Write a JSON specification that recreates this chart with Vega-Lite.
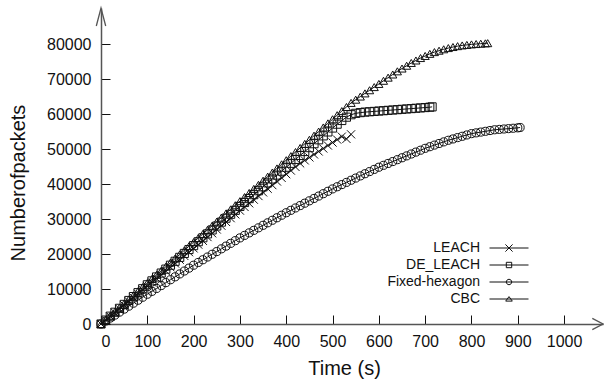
{
"$schema": "https://vega.github.io/schema/vega-lite/v6.json",
"width": 502, "height": 316,
"autosize": {"type": "none"},
"padding": {"left": 101, "top": 8, "right": 1, "bottom": 61},
"background": "white",
"config": {"view": {"stroke": null}, "font": "Liberation Sans",
  "axis": {"grid": false, "domainColor": "#555", "domainWidth": 1.5, "tickColor": "#111", "tickWidth": 1, "tickSize": -9, "labelFontSize": 16, "labelColor": "#111", "titleFontSize": 20, "titleFontWeight": "normal", "titleColor": "#111", "format": "d", "labelOverlap": false}},
"datasets": {"curves": [
{"series":"LEACH","t":0,"v":0},{"series":"LEACH","t":10,"v":1080},{"series":"LEACH","t":20,"v":2160},{"series":"LEACH","t":30,"v":3240},{"series":"LEACH","t":40,"v":4320},{"series":"LEACH","t":50,"v":5400},{"series":"LEACH","t":60,"v":6480},{"series":"LEACH","t":70,"v":7560},{"series":"LEACH","t":80,"v":8640},{"series":"LEACH","t":90,"v":9720},{"series":"LEACH","t":100,"v":10800},{"series":"LEACH","t":110,"v":11880},{"series":"LEACH","t":120,"v":12960},{"series":"LEACH","t":130,"v":14040},{"series":"LEACH","t":140,"v":15120},{"series":"LEACH","t":150,"v":16200},{"series":"LEACH","t":160,"v":17280},{"series":"LEACH","t":170,"v":18360},{"series":"LEACH","t":180,"v":19440},{"series":"LEACH","t":190,"v":20520},{"series":"LEACH","t":200,"v":21600},{"series":"LEACH","t":210,"v":22680},{"series":"LEACH","t":220,"v":23760},{"series":"LEACH","t":230,"v":24840},{"series":"LEACH","t":240,"v":25920},{"series":"LEACH","t":250,"v":27000},{"series":"LEACH","t":260,"v":28080},{"series":"LEACH","t":270,"v":29160},{"series":"LEACH","t":280,"v":30240},{"series":"LEACH","t":290,"v":31320},{"series":"LEACH","t":300,"v":32400},{"series":"LEACH","t":310,"v":33440},{"series":"LEACH","t":320,"v":34480},{"series":"LEACH","t":330,"v":35520},{"series":"LEACH","t":340,"v":36560},{"series":"LEACH","t":350,"v":37600},{"series":"LEACH","t":360,"v":38640},{"series":"LEACH","t":370,"v":39680},{"series":"LEACH","t":380,"v":40720},{"series":"LEACH","t":390,"v":41760},{"series":"LEACH","t":400,"v":42800},{"series":"LEACH","t":410,"v":43840},{"series":"LEACH","t":420,"v":44880},{"series":"LEACH","t":430,"v":45900},{"series":"LEACH","t":440,"v":46750},{"series":"LEACH","t":450,"v":47600},{"series":"LEACH","t":460,"v":48450},{"series":"LEACH","t":470,"v":49300},{"series":"LEACH","t":480,"v":50150},{"series":"LEACH","t":490,"v":51000},{"series":"LEACH","t":500,"v":51850},{"series":"LEACH","t":510,"v":52700},{"series":"LEACH","t":520,"v":53550},{"series":"LEACH","t":530,"v":52900},{"series":"LEACH","t":540,"v":54200},
{"series":"DE_LEACH","t":0,"v":0},{"series":"DE_LEACH","t":10,"v":1120},{"series":"DE_LEACH","t":20,"v":2240},{"series":"DE_LEACH","t":30,"v":3360},{"series":"DE_LEACH","t":40,"v":4480},{"series":"DE_LEACH","t":50,"v":5600},{"series":"DE_LEACH","t":60,"v":6720},{"series":"DE_LEACH","t":70,"v":7840},{"series":"DE_LEACH","t":80,"v":8960},{"series":"DE_LEACH","t":90,"v":10080},{"series":"DE_LEACH","t":100,"v":11200},{"series":"DE_LEACH","t":110,"v":12320},{"series":"DE_LEACH","t":120,"v":13440},{"series":"DE_LEACH","t":130,"v":14560},{"series":"DE_LEACH","t":140,"v":15680},{"series":"DE_LEACH","t":150,"v":16800},{"series":"DE_LEACH","t":160,"v":17920},{"series":"DE_LEACH","t":170,"v":19040},{"series":"DE_LEACH","t":180,"v":20160},{"series":"DE_LEACH","t":190,"v":21280},{"series":"DE_LEACH","t":200,"v":22400},{"series":"DE_LEACH","t":210,"v":23520},{"series":"DE_LEACH","t":220,"v":24640},{"series":"DE_LEACH","t":230,"v":25760},{"series":"DE_LEACH","t":240,"v":26880},{"series":"DE_LEACH","t":250,"v":28000},{"series":"DE_LEACH","t":260,"v":29120},{"series":"DE_LEACH","t":270,"v":30240},{"series":"DE_LEACH","t":280,"v":31360},{"series":"DE_LEACH","t":290,"v":32480},{"series":"DE_LEACH","t":300,"v":33600},{"series":"DE_LEACH","t":310,"v":34720},{"series":"DE_LEACH","t":320,"v":35840},{"series":"DE_LEACH","t":330,"v":36960},{"series":"DE_LEACH","t":340,"v":38080},{"series":"DE_LEACH","t":350,"v":39200},{"series":"DE_LEACH","t":360,"v":40320},{"series":"DE_LEACH","t":370,"v":41440},{"series":"DE_LEACH","t":380,"v":42560},{"series":"DE_LEACH","t":390,"v":43680},{"series":"DE_LEACH","t":400,"v":44800},{"series":"DE_LEACH","t":410,"v":45920},{"series":"DE_LEACH","t":420,"v":47040},{"series":"DE_LEACH","t":430,"v":48160},{"series":"DE_LEACH","t":440,"v":49280},{"series":"DE_LEACH","t":450,"v":50400},{"series":"DE_LEACH","t":460,"v":51520},{"series":"DE_LEACH","t":470,"v":52640},{"series":"DE_LEACH","t":480,"v":53760},{"series":"DE_LEACH","t":490,"v":54880},{"series":"DE_LEACH","t":500,"v":56000},{"series":"DE_LEACH","t":510,"v":57100},{"series":"DE_LEACH","t":520,"v":58150},{"series":"DE_LEACH","t":530,"v":59100},{"series":"DE_LEACH","t":540,"v":59800},{"series":"DE_LEACH","t":550,"v":60200},{"series":"DE_LEACH","t":560,"v":60400},{"series":"DE_LEACH","t":570,"v":60550},{"series":"DE_LEACH","t":580,"v":60650},{"series":"DE_LEACH","t":590,"v":60750},{"series":"DE_LEACH","t":600,"v":60850},{"series":"DE_LEACH","t":610,"v":60950},{"series":"DE_LEACH","t":620,"v":61050},{"series":"DE_LEACH","t":630,"v":61150},{"series":"DE_LEACH","t":640,"v":61250},{"series":"DE_LEACH","t":650,"v":61350},{"series":"DE_LEACH","t":660,"v":61450},{"series":"DE_LEACH","t":670,"v":61550},{"series":"DE_LEACH","t":680,"v":61650},{"series":"DE_LEACH","t":690,"v":61750},{"series":"DE_LEACH","t":700,"v":61850},{"series":"DE_LEACH","t":710,"v":61950},{"series":"DE_LEACH","t":715,"v":62050},
{"series":"Fixed-hexagon","t":0,"v":0},{"series":"Fixed-hexagon","t":10,"v":850},{"series":"Fixed-hexagon","t":20,"v":1700},{"series":"Fixed-hexagon","t":30,"v":2550},{"series":"Fixed-hexagon","t":40,"v":3400},{"series":"Fixed-hexagon","t":50,"v":4250},{"series":"Fixed-hexagon","t":60,"v":5100},{"series":"Fixed-hexagon","t":70,"v":5950},{"series":"Fixed-hexagon","t":80,"v":6800},{"series":"Fixed-hexagon","t":90,"v":7650},{"series":"Fixed-hexagon","t":100,"v":8500},{"series":"Fixed-hexagon","t":110,"v":9330},{"series":"Fixed-hexagon","t":120,"v":10160},{"series":"Fixed-hexagon","t":130,"v":10990},{"series":"Fixed-hexagon","t":140,"v":11820},{"series":"Fixed-hexagon","t":150,"v":12650},{"series":"Fixed-hexagon","t":160,"v":13480},{"series":"Fixed-hexagon","t":170,"v":14310},{"series":"Fixed-hexagon","t":180,"v":15140},{"series":"Fixed-hexagon","t":190,"v":15970},{"series":"Fixed-hexagon","t":200,"v":16800},{"series":"Fixed-hexagon","t":210,"v":17580},{"series":"Fixed-hexagon","t":220,"v":18360},{"series":"Fixed-hexagon","t":230,"v":19140},{"series":"Fixed-hexagon","t":240,"v":19920},{"series":"Fixed-hexagon","t":250,"v":20700},{"series":"Fixed-hexagon","t":260,"v":21480},{"series":"Fixed-hexagon","t":270,"v":22260},{"series":"Fixed-hexagon","t":280,"v":23040},{"series":"Fixed-hexagon","t":290,"v":23820},{"series":"Fixed-hexagon","t":300,"v":24600},{"series":"Fixed-hexagon","t":310,"v":25320},{"series":"Fixed-hexagon","t":320,"v":26040},{"series":"Fixed-hexagon","t":330,"v":26760},{"series":"Fixed-hexagon","t":340,"v":27480},{"series":"Fixed-hexagon","t":350,"v":28200},{"series":"Fixed-hexagon","t":360,"v":28920},{"series":"Fixed-hexagon","t":370,"v":29640},{"series":"Fixed-hexagon","t":380,"v":30360},{"series":"Fixed-hexagon","t":390,"v":31080},{"series":"Fixed-hexagon","t":400,"v":31800},{"series":"Fixed-hexagon","t":410,"v":32480},{"series":"Fixed-hexagon","t":420,"v":33160},{"series":"Fixed-hexagon","t":430,"v":33840},{"series":"Fixed-hexagon","t":440,"v":34520},{"series":"Fixed-hexagon","t":450,"v":35200},{"series":"Fixed-hexagon","t":460,"v":35880},{"series":"Fixed-hexagon","t":470,"v":36560},{"series":"Fixed-hexagon","t":480,"v":37240},{"series":"Fixed-hexagon","t":490,"v":37920},{"series":"Fixed-hexagon","t":500,"v":38600},{"series":"Fixed-hexagon","t":510,"v":39220},{"series":"Fixed-hexagon","t":520,"v":39840},{"series":"Fixed-hexagon","t":530,"v":40460},{"series":"Fixed-hexagon","t":540,"v":41080},{"series":"Fixed-hexagon","t":550,"v":41700},{"series":"Fixed-hexagon","t":560,"v":42320},{"series":"Fixed-hexagon","t":570,"v":42940},{"series":"Fixed-hexagon","t":580,"v":43560},{"series":"Fixed-hexagon","t":590,"v":44180},{"series":"Fixed-hexagon","t":600,"v":44800},{"series":"Fixed-hexagon","t":610,"v":45340},{"series":"Fixed-hexagon","t":620,"v":45880},{"series":"Fixed-hexagon","t":630,"v":46420},{"series":"Fixed-hexagon","t":640,"v":46960},{"series":"Fixed-hexagon","t":650,"v":47500},{"series":"Fixed-hexagon","t":660,"v":48040},{"series":"Fixed-hexagon","t":670,"v":48580},{"series":"Fixed-hexagon","t":680,"v":49120},{"series":"Fixed-hexagon","t":690,"v":49660},{"series":"Fixed-hexagon","t":700,"v":50200},{"series":"Fixed-hexagon","t":710,"v":50660},{"series":"Fixed-hexagon","t":720,"v":51120},{"series":"Fixed-hexagon","t":730,"v":51580},{"series":"Fixed-hexagon","t":740,"v":52040},{"series":"Fixed-hexagon","t":750,"v":52500},{"series":"Fixed-hexagon","t":760,"v":52880},{"series":"Fixed-hexagon","t":770,"v":53260},{"series":"Fixed-hexagon","t":780,"v":53640},{"series":"Fixed-hexagon","t":790,"v":54020},{"series":"Fixed-hexagon","t":800,"v":54400},{"series":"Fixed-hexagon","t":810,"v":54620},{"series":"Fixed-hexagon","t":820,"v":54840},{"series":"Fixed-hexagon","t":830,"v":55060},{"series":"Fixed-hexagon","t":840,"v":55280},{"series":"Fixed-hexagon","t":850,"v":55500},{"series":"Fixed-hexagon","t":860,"v":55610},{"series":"Fixed-hexagon","t":870,"v":55720},{"series":"Fixed-hexagon","t":880,"v":55830},{"series":"Fixed-hexagon","t":890,"v":55940},{"series":"Fixed-hexagon","t":900,"v":56050},{"series":"Fixed-hexagon","t":905,"v":56150},
{"series":"CBC","t":0,"v":0},{"series":"CBC","t":10,"v":1170},{"series":"CBC","t":20,"v":2340},{"series":"CBC","t":30,"v":3510},{"series":"CBC","t":40,"v":4680},{"series":"CBC","t":50,"v":5850},{"series":"CBC","t":60,"v":7020},{"series":"CBC","t":70,"v":8190},{"series":"CBC","t":80,"v":9360},{"series":"CBC","t":90,"v":10530},{"series":"CBC","t":100,"v":11700},{"series":"CBC","t":110,"v":12870},{"series":"CBC","t":120,"v":14040},{"series":"CBC","t":130,"v":15210},{"series":"CBC","t":140,"v":16380},{"series":"CBC","t":150,"v":17550},{"series":"CBC","t":160,"v":18720},{"series":"CBC","t":170,"v":19890},{"series":"CBC","t":180,"v":21060},{"series":"CBC","t":190,"v":22230},{"series":"CBC","t":200,"v":23400},{"series":"CBC","t":210,"v":24570},{"series":"CBC","t":220,"v":25740},{"series":"CBC","t":230,"v":26910},{"series":"CBC","t":240,"v":28080},{"series":"CBC","t":250,"v":29250},{"series":"CBC","t":260,"v":30420},{"series":"CBC","t":270,"v":31590},{"series":"CBC","t":280,"v":32760},{"series":"CBC","t":290,"v":33930},{"series":"CBC","t":300,"v":35100},{"series":"CBC","t":310,"v":36270},{"series":"CBC","t":320,"v":37440},{"series":"CBC","t":330,"v":38610},{"series":"CBC","t":340,"v":39780},{"series":"CBC","t":350,"v":40950},{"series":"CBC","t":360,"v":42120},{"series":"CBC","t":370,"v":43290},{"series":"CBC","t":380,"v":44460},{"series":"CBC","t":390,"v":45630},{"series":"CBC","t":400,"v":46800},{"series":"CBC","t":410,"v":47970},{"series":"CBC","t":420,"v":49140},{"series":"CBC","t":430,"v":50310},{"series":"CBC","t":440,"v":51480},{"series":"CBC","t":450,"v":52650},{"series":"CBC","t":460,"v":53820},{"series":"CBC","t":470,"v":54990},{"series":"CBC","t":480,"v":56160},{"series":"CBC","t":490,"v":57330},{"series":"CBC","t":500,"v":58500},{"series":"CBC","t":510,"v":59670},{"series":"CBC","t":520,"v":60840},{"series":"CBC","t":530,"v":62010},{"series":"CBC","t":540,"v":63180},{"series":"CBC","t":550,"v":64100},{"series":"CBC","t":560,"v":65000},{"series":"CBC","t":570,"v":65900},{"series":"CBC","t":580,"v":66800},{"series":"CBC","t":590,"v":67700},{"series":"CBC","t":600,"v":68600},{"series":"CBC","t":610,"v":69500},{"series":"CBC","t":620,"v":70400},{"series":"CBC","t":630,"v":71300},{"series":"CBC","t":640,"v":72200},{"series":"CBC","t":650,"v":73000},{"series":"CBC","t":660,"v":73800},{"series":"CBC","t":670,"v":74600},{"series":"CBC","t":680,"v":75300},{"series":"CBC","t":690,"v":76000},{"series":"CBC","t":700,"v":76600},{"series":"CBC","t":710,"v":77200},{"series":"CBC","t":720,"v":77700},{"series":"CBC","t":730,"v":78100},{"series":"CBC","t":740,"v":78500},{"series":"CBC","t":750,"v":78850},{"series":"CBC","t":760,"v":79150},{"series":"CBC","t":770,"v":79400},{"series":"CBC","t":780,"v":79600},{"series":"CBC","t":790,"v":79750},{"series":"CBC","t":800,"v":79900},{"series":"CBC","t":810,"v":80000},{"series":"CBC","t":820,"v":80100},{"series":"CBC","t":830,"v":80200},{"series":"CBC","t":835,"v":80250}
]},
"layer": [
  {"data": {"name": "curves"}, "mark": {"type": "line", "stroke": "#111", "strokeWidth": 1},
   "encoding": {
     "x": {"field": "t", "type": "quantitative", "scale": {"domain": [0, 1084], "nice": false, "zero": false},
        "axis": {"values": [0,100,200,300,400,500,600,700,800,900,1000], "title": "Time (s)", "labelPadding": 18, "titleX": 243, "titleY": 44, "titleBaseline": "middle", "titleAlign": "center"}},
     "y": {"field": "v", "type": "quantitative", "scale": {"domain": [0, 90300], "nice": false, "zero": false},
        "axis": {"values": [0,10000,20000,30000,40000,50000,60000,70000,80000], "title": "Numberofpackets", "labelPadding": 19, "titleX": -83, "titleY": 174.5, "titleBaseline": "middle", "titleAlign": "center", "titleAngle": -90}},
     "detail": {"field": "series", "type": "nominal"}, "order": {"field": "t", "type": "quantitative"}}},
  {"data": {"name": "curves"}, "mark": {"type": "point", "filled": false, "stroke": "#111", "strokeWidth": 1, "size": 66, "opacity": 1},
   "encoding": {
     "x": {"field": "t", "type": "quantitative",
        "axis": {"values": [0,100,200,300,400,500,600,700,800,900,1000], "title": "Time (s)", "labelPadding": 18, "titleX": 243, "titleY": 44, "titleBaseline": "middle", "titleAlign": "center"}},
     "y": {"field": "v", "type": "quantitative",
        "axis": {"values": [0,10000,20000,30000,40000,50000,60000,70000,80000], "title": "Numberofpackets", "labelPadding": 19, "titleX": -83, "titleY": 174.5, "titleBaseline": "middle", "titleAlign": "center", "titleAngle": -90}},
     "shape": {"field": "series", "type": "nominal",
      "scale": {"domain": ["LEACH", "DE_LEACH", "Fixed-hexagon", "CBC"], "range": ["M-1,-1L1,1M-1,1L1,-1", "square", "circle", "triangle-up"]},
      "legend": null}}},
  {"data": {"name": "curves"}, "transform": [{"filter": "datum.t < 0"}],
   "mark": {"type": "point", "filled": false, "stroke": "#111", "strokeWidth": 1, "size": 36, "opacity": 1},
   "encoding": {
     "x": {"field": "t", "type": "quantitative",
        "axis": {"values": [0,100,200,300,400,500,600,700,800,900,1000], "title": "Time (s)", "labelPadding": 18, "titleX": 243, "titleY": 44, "titleBaseline": "middle", "titleAlign": "center"}},
     "y": {"field": "v", "type": "quantitative",
        "axis": {"values": [0,10000,20000,30000,40000,50000,60000,70000,80000], "title": "Numberofpackets", "labelPadding": 19, "titleX": -83, "titleY": 174.5, "titleBaseline": "middle", "titleAlign": "center", "titleAngle": -90}},
     "shape": {"field": "series", "type": "nominal",
      "scale": {"domain": ["LEACH", "DE_LEACH", "Fixed-hexagon", "CBC"], "range": ["M-6.5,0L6.5,0M-1.2,-1.2L1.2,1.2M-1.2,1.2L1.2,-1.2", "M-6.5,0L6.5,0M-0.9,-0.9L0.9,-0.9L0.9,0.9L-0.9,0.9Z", "M-6.5,0L6.5,0M0.9,0A0.9,0.9,0,1,1,-0.9,0A0.9,0.9,0,1,1,0.9,0", "M-6.5,0L6.5,0M0,-0.8L1.1,0.7L-1.1,0.7Z"]},
      "legend": {"orient": "none", "legendX": 401, "legendY": 233, "title": null, "padding": 0, "labelAlign": "right", "labelOffset": -36, "labelFontSize": 14, "labelColor": "#111", "labelFont": "Liberation Sans", "symbolStrokeColor": "#111", "symbolFillColor": "transparent", "symbolSize": 36, "symbolStrokeWidth": 1, "symbolOpacity": 1, "rowPadding": 3}}}},
  {"data": {"values": [{}]}, "mark": {"type": "point", "shape": "M-1.07,-0.56L0,0L-1.07,0.56", "size": 400, "filled": false, "stroke": "#555", "strokeWidth": 1.3, "opacity": 1},
   "encoding": {
     "x": {"datum": 1084, "type": "quantitative",
        "axis": {"values": [0,100,200,300,400,500,600,700,800,900,1000], "title": "Time (s)", "labelPadding": 18, "titleX": 243, "titleY": 44, "titleBaseline": "middle", "titleAlign": "center"}},
     "y": {"datum": 0, "type": "quantitative",
        "axis": {"values": [0,10000,20000,30000,40000,50000,60000,70000,80000], "title": "Numberofpackets", "labelPadding": 19, "titleX": -83, "titleY": 174.5, "titleBaseline": "middle", "titleAlign": "center", "titleAngle": -90}}}},
  {"data": {"values": [{}]}, "mark": {"type": "point", "shape": "M-0.47,1.8L0,0L0.47,1.8", "size": 400, "filled": false, "stroke": "#555", "strokeWidth": 1.3, "opacity": 1},
   "encoding": {
     "x": {"datum": 0, "type": "quantitative",
        "axis": {"values": [0,100,200,300,400,500,600,700,800,900,1000], "title": "Time (s)", "labelPadding": 18, "titleX": 243, "titleY": 44, "titleBaseline": "middle", "titleAlign": "center"}},
     "y": {"datum": 90300, "type": "quantitative",
        "axis": {"values": [0,10000,20000,30000,40000,50000,60000,70000,80000], "title": "Numberofpackets", "labelPadding": 19, "titleX": -83, "titleY": 174.5, "titleBaseline": "middle", "titleAlign": "center", "titleAngle": -90}}}}
],
"resolve": {"scale": {"shape": "independent"}, "legend": {"shape": "independent"}}
}
